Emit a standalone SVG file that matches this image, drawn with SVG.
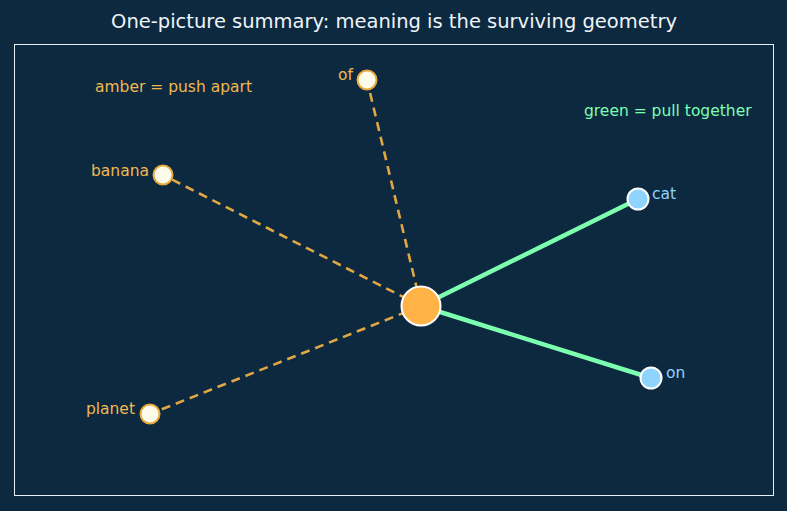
<svg xmlns="http://www.w3.org/2000/svg" width="787" height="511" viewBox="0 0 787 511">
<style>
text{font-family:"DejaVu Sans",sans-serif}
.push{stroke:#e0a743;stroke-width:2.6;stroke-dasharray:9 6;fill:none}
.pull{stroke:#7dffb0;stroke-width:4.5;fill:none}
.neg{fill:#fffbea;stroke:#e8a93c;stroke-width:2}
.pos{fill:#8fd3ff;stroke:#ffffff;stroke-width:2}
.al{fill:#f2b84f;font-size:15.5px}
.bl{fill:#8fd3ff;font-size:15.5px}
</style>
<rect width="787" height="511" fill="#0c2940"/>
<text x="394" y="28" text-anchor="middle" font-size="19.5" fill="#f0f4f8">One-picture summary: meaning is the surviving geometry</text>
<rect x="14.5" y="44.5" width="759" height="451" fill="none" stroke="#e8f0f4" stroke-width="1"/>
<text x="95" y="92" class="al">amber = push apart</text>
<text x="584" y="116" fill="#7dffb0" font-size="15.5">green = pull together</text>
<g id="connectors">
<line class="push" x1="421" y1="306" x2="367" y2="80"/>
<line class="push" x1="421" y1="306" x2="163" y2="175"/>
<line class="push" x1="421" y1="306" x2="150" y2="414"/>
<line class="pull" x1="421" y1="306" x2="638" y2="199"/>
<line class="pull" x1="421" y1="306" x2="651" y2="378"/>
</g>
<g id="node-of"><circle class="neg" cx="367" cy="80" r="9.5"/><text class="al" x="353" y="80" text-anchor="end">of</text></g>
<g id="node-banana"><circle class="neg" cx="163" cy="175" r="9.5"/><text class="al" x="149" y="176" text-anchor="end">banana</text></g>
<g id="node-planet"><circle class="neg" cx="150" cy="414" r="9.5"/><text class="al" x="135" y="414" text-anchor="end">planet</text></g>
<g id="node-cat"><circle class="pos" cx="638" cy="199" r="10.5"/><text class="bl" x="652" y="199">cat</text></g>
<g id="node-on"><circle class="pos" cx="651" cy="378" r="10.5"/><text class="bl" x="666" y="378">on</text></g>
<g id="node-center"><circle cx="421" cy="306" r="19.5" fill="#ffb347" stroke="#ffffff" stroke-width="2"/></g>
</svg>
